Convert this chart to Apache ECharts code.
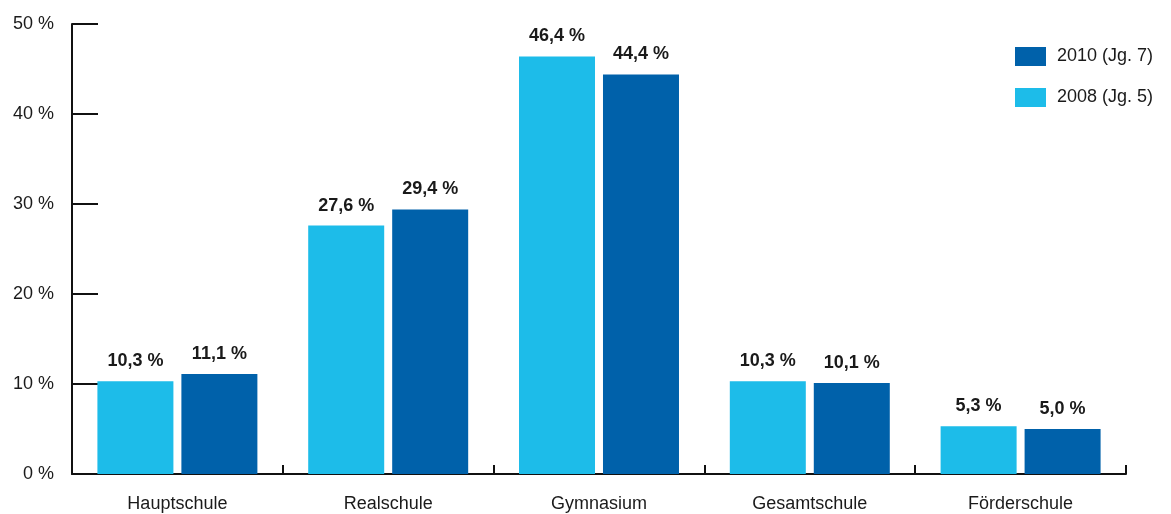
<!DOCTYPE html>
<html>
<head>
<meta charset="utf-8">
<script src="https://cdn.jsdelivr.net/npm/echarts@6/dist/echarts.min.js"></script>
<style>
html,body{margin:0;padding:0;background:#fff;}
#c{width:1171px;height:514px;}
</style>
</head>
<body>
<div id="c"></div>
<script>
const categories = ['Hauptschule', 'Realschule', 'Gymnasium', 'Gesamtschule', 'Förderschule'];
const values2008 = [10.3, 27.6, 46.4, 10.3, 5.3];
const values2010 = [11.1, 29.4, 44.4, 10.1, 5.0];
const seriesNames = ['2008 (Jg. 5)', '2010 (Jg. 7)'];
const legendOrder = ['2010 (Jg. 7)', '2008 (Jg. 5)'];

const fmt = v => v.toFixed(1).replace('.', ',') + ' %';
const font = '"Liberation Sans", Arial, sans-serif';

const chart = echarts.init(document.getElementById('c'), null, {renderer: 'canvas'});
const labelCfg = {
  show: true,
  position: 'top',
  distance: 11,
  fontFamily: font,
  fontSize: 18,
  fontWeight: 'bold',
  color: '#1a1a1a',
  formatter: p => fmt(p.value)
};
chart.setOption({
  animation: false,
  backgroundColor: '#fff',
  textStyle: {fontFamily: font},
  grid: {left: 72, right: 45, top: 24, bottom: 40, containLabel: false},
  legend: {
    data: legendOrder,
    orient: 'vertical',
    left: 1010,
    top: 42,
    itemWidth: 31,
    itemHeight: 19,
    itemGap: 22,
    icon: 'rect',
    textStyle: {fontFamily: font, fontSize: 18, color: '#1a1a1a', padding: [0, 0, 0, 6]}
  },
  xAxis: {
    type: 'category',
    data: categories,
    axisLine: {show: true, lineStyle: {color: '#111', width: 2}},
    axisTick: {show: true, inside: true, length: 9, lineStyle: {color: '#111', width: 2}},
    axisLabel: {fontFamily: font, fontSize: 18, color: '#1a1a1a', margin: 21}
  },
  yAxis: {
    type: 'value',
    min: 0,
    max: 50,
    interval: 10,
    axisLine: {show: true, lineStyle: {color: '#111', width: 2}},
    axisTick: {show: true, inside: true, length: 26, lineStyle: {color: '#111', width: 2}},
    splitLine: {show: false},
    axisLabel: {fontFamily: font, fontSize: 18, color: '#1a1a1a', margin: 18, formatter: v => v + ' %'}
  },
  series: [
    {
      name: seriesNames[0],
      type: 'bar',
      data: values2008,
      barWidth: 76,
      barGap: '10.5%',
      itemStyle: {color: '#1DBCE9'},
      label: labelCfg
    },
    {
      name: seriesNames[1],
      type: 'bar',
      data: values2010,
      barWidth: 76,
      barGap: '10.5%',
      itemStyle: {color: '#0061AA'},
      label: labelCfg
    }
  ]
});
</script>
</body>
</html>
